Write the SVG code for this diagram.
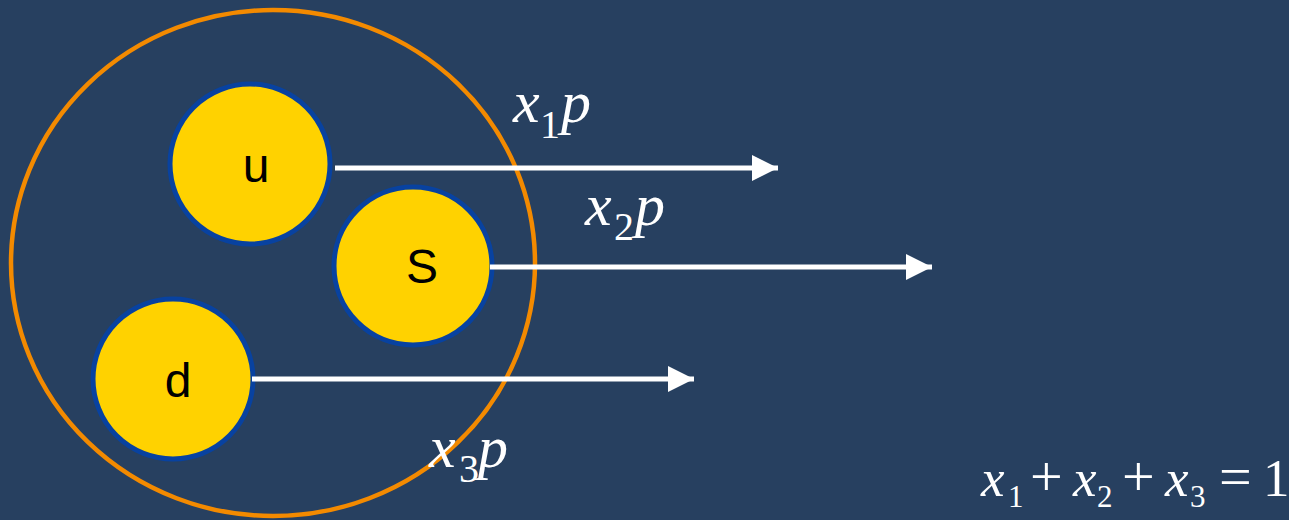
<svg xmlns="http://www.w3.org/2000/svg" width="1289" height="520" viewBox="0 0 1289 520">
<defs>
<style>
.q{fill:#ffd200;stroke:#0842a0;stroke-width:5}
.ql{font-family:"Liberation Sans",Arial,sans-serif;font-size:48px;fill:#000;text-anchor:middle}
.ar{stroke:#fff;stroke-width:5;fill:none}
.m{font-family:"Liberation Serif","Times New Roman",serif;fill:#fff}
.i{font-style:italic}
</style>
<marker id="ah" markerUnits="userSpaceOnUse" markerWidth="28" markerHeight="26" refX="26" refY="13" orient="auto"><path d="M0,0 L26,13 L0,26 Z" fill="#fff"/></marker>
</defs>
<rect width="1289" height="520" fill="#274060"/>
<g id="proton"><ellipse cx="273" cy="263" rx="262" ry="253" fill="none" stroke="#f38a00" stroke-width="4.5"/></g>
<g id="u"><circle class="q" cx="250" cy="164" r="80"/><text class="ql" x="256" y="182">u</text></g>
<g id="s"><circle class="q" cx="413" cy="266" r="79"/><text class="ql" x="422" y="283">S</text></g>
<g id="d"><circle class="q" cx="173" cy="379" r="80"/><text class="ql" x="178" y="397">d</text></g>
<g id="connectors">
<line class="ar" x1="335" y1="168" x2="778" y2="168" marker-end="url(#ah)"/>
<line class="ar" x1="490" y1="267" x2="932" y2="267" marker-end="url(#ah)"/>
<line class="ar" x1="252" y1="379" x2="694" y2="379" marker-end="url(#ah)"/>
</g>
<g id="labels">
<text class="m" font-size="60"><tspan class="i" x="513" y="122">x</tspan><tspan x="540" y="138" font-size="40">1</tspan><tspan class="i" x="561" y="122">p</tspan></text>
<text class="m" font-size="60"><tspan class="i" x="585" y="225">x</tspan><tspan x="614" y="240" font-size="40">2</tspan><tspan class="i" x="635" y="225">p</tspan></text>
<text class="m" font-size="60"><tspan class="i" x="429" y="467">x</tspan><tspan x="459" y="482" font-size="40">3</tspan><tspan class="i" x="478" y="467">p</tspan></text>
<text class="m" font-size="53"><tspan class="i" x="981" y="496">x</tspan><tspan x="1008" y="507" font-size="31">1</tspan><tspan x="1030" y="496" font-size="58">+</tspan><tspan class="i" x="1073" y="496">x</tspan><tspan x="1097" y="507" font-size="31">2</tspan><tspan x="1122" y="496" font-size="58">+</tspan><tspan class="i" x="1165" y="496">x</tspan><tspan x="1190" y="507" font-size="31">3</tspan><tspan x="1219" y="496" font-size="58">=</tspan><tspan x="1263" y="496">1</tspan></text>
</g>
</svg>
